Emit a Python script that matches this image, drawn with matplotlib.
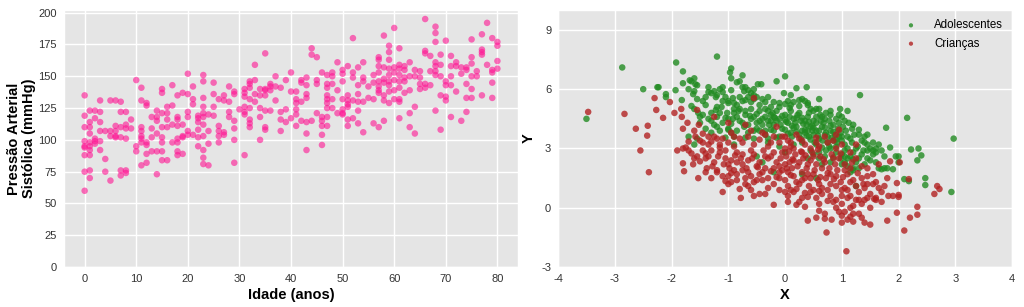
import matplotlib
matplotlib.use("Agg")
import matplotlib.pyplot as plt

# Painel esquerdo: pressão arterial sistólica por idade (índice da lista = idade)
pressao = [
    [135, 119, 110, 99, 95, 94, 88, 75, 60],
    [123, 114, 110, 105, 98, 95, 92, 88, 76, 70],
    [123, 117, 101, 97, 99],
    [131, 122, 114, 107, 99, 92],
    [107, 85, 75],
    [131, 107, 103, 68],
    [131, 111, 103, 102, 107],
    [130, 122, 110, 102, 76, 72],
    [122, 112, 109, 101, 76, 74],
    [116, 109],
    [147, 95, 91],
    [141, 131, 110, 107, 103, 101, 98, 80],
    [129, 127, 98, 96, 89, 82],
    [118, 109, 102, 91],
    [123, 118, 115, 105, 91, 73],
    [140, 137, 121, 110, 102, 98, 91, 84],
    [126, 121, 116, 110, 84],
    [143, 127, 112, 98],
    [135, 118, 116, 111, 101, 98, 91, 88],
    [137, 112, 103, 102, 89],
    [152, 136, 122, 118, 107, 104],
    [142, 132, 128, 104],
    [119, 117, 114, 108, 102, 95],
    [151, 146, 133, 126, 121, 118, 112, 103, 92, 86, 81],
    [120, 107, 97, 80],
    [145, 136, 126, 119],
    [132, 111, 107, 103, 98],
    [135, 131, 106, 104],
    [142, 130, 122, 118],
    [138, 136, 115, 109, 100, 82],
    [124],
    [140, 137, 134, 126, 122, 120, 88],
    [146, 144, 141, 132, 125, 116, 113, 110],
    [159, 147, 136, 130],
    [140, 135, 125, 118, 100],
    [168, 140, 139, 135, 123, 110, 108],
    [144, 142, 139, 123],
    [150, 142, 131],
    [141, 122, 116, 107],
    [147, 124, 114],
    [153, 138, 117],
    [138, 132, 129, 124, 120, 111],
    [147, 145, 130, 115],
    [149, 143, 136, 133, 114, 105, 92],
    [172, 167, 115],
    [165, 147, 144, 121],
    [153, 118, 115, 111, 104, 96],
    [151, 144, 141, 135, 132, 129, 125, 118, 111],
    [153, 150, 144, 132, 125],
    [161, 139, 121],
    [155, 152, 146, 132, 124, 121, 120],
    [158, 135, 131, 128, 126, 116, 111],
    [180, 153, 149, 131, 117],
    [157, 143, 136, 130, 123, 113],
    [161, 149, 146, 130, 106],
    [142, 133],
    [151, 145, 132, 113],
    [165, 163, 158, 153, 146, 142, 139, 137, 110],
    [182, 157, 148, 145, 135, 131, 115],
    [174, 169, 163, 156, 151, 146, 143, 138, 129],
    [188, 157, 153, 147, 139, 132],
    [172, 159, 156, 151, 146, 141, 132, 130, 117],
    [158, 155, 149, 146, 137],
    [161, 150, 139, 121, 110],
    [155, 150, 126, 105],
    [154, 149, 144, 140],
    [195, 170, 168, 144, 141],
    [166, 154, 143],
    [189, 184, 177, 161, 158, 154, 151, 123],
    [167, 159, 150, 135, 108],
    [178, 146, 143, 134, 131],
    [166, 158, 150, 143, 118],
    [161, 158, 138],
    [152, 157, 115],
    [157, 155, 144, 133, 122],
    [179, 165, 160, 150, 140, 133],
    [154, 150],
    [183, 171, 169, 167, 135],
    [192, 159],
    [180, 155, 153, 145, 133],
    [177, 174, 162, 156],
]

# Painel direito: adolescentes
adol_x = [-3.5, -2.87, -2.5, -2.25, -2.23, -2.1, -2.1, -1.92, -1.93, -1.8, -1.82, -1.8,
          -1.68, -1.65, -1.6, -1.58, -1.62, -1.6, -1.55, -1.55, -1.6, -1.65, -1.53, -1.7,
          -1.55, -1.5, -1.4, -1.3, -1.25, -1.2, -1.22, -1.15, -1.1, -1.05, -1.0, -0.95,
          -0.95, -0.97, -0.9, -0.9, -0.85, -0.8, -0.75, -0.72, -0.7, -0.65, -0.6, -0.55,
          -0.5, -0.48, -0.42, -0.4, -0.35, -0.3, -0.2, -0.15, -0.1, 0.0, -0.02, 0.05,
          0.1, 0.2, 0.3, 0.38, 0.4, 0.5, 0.6, 0.65, 0.7, 0.8, 0.9, 0.97, 1.1, 1.05,
          1.2, 1.32, 1.3, 1.4, 1.45, 1.5, 1.55, 1.6, 1.65, 1.75, 1.78, 1.8, 1.85, 1.95,
          2.0, 2.0, 2.15, 2.22, 2.35, 2.4, 2.33, 2.1, 2.18, 2.47, 2.47, 2.93, 2.97, 1.25,
          1.2, 1.2, 1.1, 1.0, 1.05, 1.4, 1.3, 0.55, -0.4, -0.2, -0.3, 0.3,
          -1.3, -1.2, -1.1, -1.0, -0.9, -0.8, -0.8, -0.75, -0.7, -0.65, -0.6, -0.55,
          -0.5, -0.45, -0.4, -0.35, -0.3, -0.25, -0.2, -0.15, -0.1, -0.05, 0.0, 0.05,
          0.1, 0.1, 0.15, 0.2, 0.25, 0.3, 0.35, 0.4, 0.45, 0.5, 0.5, 0.55, 0.6, 0.65,
          0.7, 0.75, 0.8, 0.85, 0.9, 0.95, 1.0, 1.1, 1.15, 1.2, -1.4, -1.3, -1.2, -1.1,
          -1.0, -0.9,
          -1.4, -1.35, -1.2, -1.1, -1.0, -0.92, -0.85, -0.8, -0.7, -0.6, -0.55, -0.45,
          -0.35, -0.25, -0.1, 0.0, 0.08, 0.15, 0.25, 0.35, 0.45, 0.55, 0.72,
          -1.5, -1.45, -1.35, -1.25, -1.15, -1.05, -0.95, -0.85, -0.75, -0.7, -0.6, -0.5,
          -0.45, -0.35, -0.28, -0.22, -0.15, -0.05, 0.02, 0.08, 0.18, 0.22, 0.3, 0.38,
          0.42, 0.55, 0.62, 0.68, 0.78, 0.85, 0.95, 1.02, 1.12, 1.18, 1.0,
          -1.3, -1.15, -0.95, -0.85, -0.65, -0.55, -0.45, -0.35, -0.2, -0.1, 0.0, 0.12,
          0.2, 0.28, 0.35, 0.42, 0.48, 0.52, 0.58, 0.66, 0.72, 0.78, 0.82, 0.88, 0.92,
          0.98, 1.05, 1.1, 1.18, 1.22, 1.28, 1.35, 1.38, 1.45, 1.55, 1.6, 1.7,
          0.45, 0.6, 0.7, 0.8, 0.9, 0.98, 1.05, 1.15, 1.25, 1.3, 1.35, 1.45, 1.5, 1.6,
          1.65, 1.7, 1.9, 1.15, 0.8, 0.65, 0.4, 0.0, -0.5, -0.9, -1.6,
          -0.3, -0.15, 0.05, 0.15, 0.25, 0.32, 0.4, 0.45, 0.5, 0.55, 0.6, 0.63,
          0.7, 0.75, 0.8, 0.85, 0.9, 0.93, 1.0, 1.07, 0.35, 0.38, 0.42, 0.48,
          0.28, 0.2, 0.12, 0.0, -0.08, -0.18, -0.25, -0.4, -0.5, -0.62, -0.72, -0.82,
          -0.92, -1.02, -1.12, -1.22, -0.3, -0.2, 0.1, 0.25, 0.4, 0.6, 0.8, 0.95,
          -0.65, -0.75, -0.55, -0.95, -1.35, -1.45, -1.7, 0.55, 0.65, 0.72, 0.85, 1.0,
          1.1, 1.2, 1.45, 1.55, 1.75, -1.05, -1.2, -1.0, -0.7, -0.55, -0.25, 0.3,
          0.6, 0.5, -0.1, 0.15, 1.3, 1.4, 1.25, 1.05]
adol_y = [4.5, 7.1, 6.0, 6.1, 6.1, 5.75, 5.6, 7.35, 5.95, 6.9, 5.45, 6.3,
          6.45, 6.4, 6.55, 6.25, 5.75, 5.9, 6.2, 5.5, 5.0, 5.15, 4.8, 3.6,
          3.5, 4.6, 5.2, 5.8, 5.9, 7.65, 5.6, 6.0, 6.1, 5.6, 5.3, 6.55,
          7.05, 6.85, 5.3, 5.0, 6.35, 6.4, 6.7, 5.9, 6.1, 5.6, 5.8, 5.5,
          5.6, 6.25, 6.25, 5.5, 5.0, 4.9, 4.6, 6.4, 5.1, 6.65, 5.8, 5.4,
          5.2, 6.05, 5.5, 6.1, 5.3, 4.9, 5.5, 4.6, 4.5, 4.7, 4.5, 5.0, 4.9, 4.4,
          4.2, 5.7, 3.7, 3.6, 3.7, 3.0, 2.9, 2.8, 3.2, 2.0, 4.05, 2.0, 3.05, 2.6,
          2.6, 2.3, 4.55, 2.95, 3.0, 2.65, 2.4, 1.45, 1.35, 1.5, 1.15, 0.8, 3.5, 1.1,
          1.9, 2.0, 2.5, 2.7, 2.3, 2.2, 2.5, 1.5, 2.3, 1.8, 3.5, 1.7,
          4.8, 4.6, 4.3, 4.5, 4.8, 4.4, 5.0, 5.4, 4.7, 4.2, 5.0, 4.6,
          4.3, 4.9, 4.5, 3.9, 4.4, 4.7, 4.2, 4.9, 4.5, 4.0, 4.7, 4.3,
          4.9, 3.8, 4.5, 4.1, 4.8, 3.9, 4.4, 3.9, 4.1, 3.7, 4.4, 3.9, 3.5, 4.1,
          3.7, 3.3, 3.9, 3.4, 3.1, 3.6, 3.4, 3.0, 3.5, 2.8, 4.0, 4.4, 5.1, 5.4,
          4.0, 3.6,
          5.6, 5.85, 5.7, 5.85, 5.4, 5.55, 5.2, 5.6, 5.45, 5.35, 5.7, 5.2,
          5.35, 5.1, 5.3, 5.25, 5.05, 5.35, 5.15, 5.4, 5.0, 5.0, 4.8,
          4.3, 4.7, 4.5, 4.2, 4.8, 4.55, 4.25, 4.6, 4.3, 4.9, 4.5, 4.75,
          4.4, 4.6, 4.2, 4.8, 4.4, 4.65, 4.35, 4.6, 4.3, 4.7, 4.55, 4.2,
          4.8, 4.3, 4.7, 4.3, 4.4, 4.2, 4.3, 4.1, 4.3, 4.0, 4.6,
          3.8, 3.9, 3.8, 3.9, 3.8, 3.5, 3.9, 3.7, 3.9, 3.6, 3.95, 3.6,
          3.85, 3.5, 3.8, 3.6, 3.9, 3.3, 3.65, 3.4, 3.8, 3.1, 3.55, 3.7, 3.3,
          3.8, 3.2, 3.6, 3.3, 3.7, 3.1, 3.4, 2.9, 3.2, 3.3, 3.0, 2.9,
          2.9, 2.8, 2.6, 3.0, 2.8, 2.5, 2.9, 2.6, 2.3, 2.0, 2.7, 2.5, 2.4, 2.3,
          2.0, 1.95, 1.95, 1.8, 2.3, 2.2, 2.5, 2.8, 2.6, 3.2, 3.2,
          3.3, 3.55, 3.75, 4.05, 3.7, 4.25, 4.6, 3.45, 4.05, 4.6, 3.9, 4.4,
          4.05, 3.6, 4.15, 3.85, 3.45, 4.0, 3.6, 3.9, 3.95, 3.65, 4.35, 4.15,
          4.4, 4.55, 4.15, 4.45, 4.2, 4.55, 4.4, 4.2, 4.0, 4.65, 4.1, 4.9,
          4.5, 4.8, 5.1, 4.95, 5.6, 5.35, 5.7, 5.45, 5.2, 5.0, 4.9, 4.7,
          5.95, 6.1, 6.0, 5.95, 6.1, 5.4, 6.0, 3.2, 3.05, 2.9, 2.55, 2.2,
          2.1, 2.45, 2.9, 2.7, 2.6, 3.55, 4.1, 3.95, 3.55, 3.9, 3.95, 3.3,
          2.5, 2.7, 3.1, 3.2, 3.95, 3.3, 3.0, 2.6]

# Painel direito: crianças
cri_x = [-3.47, -2.83, -2.63, -2.55, -2.42, -2.43, -2.4, -2.3, -2.27, -2.15, -2.03, -1.95,
         -1.9, -1.83, -1.82, -1.8, -1.8, -1.8, -1.78, -1.72, -1.7, -1.65, -1.6, -1.58,
         -1.55, -1.52, -1.53, -1.45, -1.4, -1.38, -1.35, -1.3, -1.25, -1.2, -1.2, -1.15,
         -1.1, -1.1, -1.05, -1.0, -1.0, -0.95, -0.95, -0.9, -0.85, -0.8, -0.78, -0.75,
         -0.7, -0.7, -0.65, -0.6, -0.55, -0.55, -0.5, -0.45, -0.4, -0.4, -0.35, -0.3,
         -0.25, -0.2, -0.2, -0.15, -0.1, -0.05, 0.0, 0.0, 0.0, 0.05, 0.1, 0.1,
         0.15, 0.2, 0.2, 0.25, 0.25, 0.3, 0.3, 0.35, 0.4, 0.4, 0.45, 0.5,
         0.5, 0.55, 0.55, 0.6, 0.6, 0.65, 0.7, 0.7, 0.73, 0.75, 0.8, 0.85,
         0.85, 0.9, 0.95, 0.95, 1.0, 1.0, 1.05, 1.08, 1.1, 1.1, 1.15, 1.2,
         1.2, 1.25, 1.25, 1.3, 1.3, 1.4, 1.45, 1.45, 1.5, 1.5, 1.55, 1.6,
         1.65, 1.7, 1.8, 1.82, 1.85, 1.9, 1.97, 1.97, 2.0, 2.0, 2.02, 2.1,
         2.18, 2.2, 2.33, 2.33, 2.63, 2.68, 2.72, 1.57, 1.6,
         -1.5, -1.35, -1.25, -1.1, -1.0, -0.9, -0.75, -0.65, -0.55, -0.45, -0.3, -0.2,
         -0.1, 0.05, 0.15, 0.2, 0.35, 0.45, 0.6, 0.75, 0.9, 1.0, 1.15,
         -1.7, -1.55, -1.45, -1.35, -1.25, -1.15, -1.05, -0.95, -0.85, -0.75, -0.65, -0.55,
         -0.45, -0.35, -0.25, -0.15, -0.08, 0.02, 0.08, 0.12, 0.18, 0.25, 0.32, 0.38,
         0.45, 0.55, 0.62, 0.7, 0.78, 0.88, 0.95, 1.05, 1.15, 1.25, 1.35,
         -1.2, -1.0, -0.85, -0.75, -0.6, -0.5, -0.4, -0.3, -0.2, -0.1, 0.0, 0.05,
         0.15, 0.25, 0.35, 0.42, 0.5, 0.58, 0.65, 0.72, 0.8, 0.9, 0.98, 1.05,
         1.15, 1.25, 1.35, 1.4, 1.55, 1.65,
         -0.6, -0.35, -0.1, 0.05, 0.15, 0.3, 0.45, 0.55, 0.65, 0.8, 0.9, 1.0,
         1.1, 1.2, 1.35, 1.45, 1.2, 1.05, 0.9,
         -0.2, -0.1, -0.05, 0.0, 0.03, 0.07, 0.1, 0.13, 0.22, 0.28, 0.3, 0.36,
         0.4, 0.48, 0.52, 0.58, 0.62, 0.68, 0.75, 0.82, 0.86, 0.92, 0.98, 1.02,
         1.1, 1.18, 1.28, 1.38, 1.45, -0.3, -0.38, -0.48, -0.58, -0.68, -0.78, -0.88,
         -0.98, -1.08, -1.18, -1.28, -1.4, -1.5, -0.15, -0.25, -0.45, -0.55, -0.65, -0.7,
         -0.85, -0.95, -1.05, 0.2, 0.4, 0.6, 0.75, 1.0, 1.15, 1.3, 1.5, 1.6,
         1.75, 0.1, 0.3, 0.55, 0.85, -0.05, -0.35, -0.6, -0.9, -1.15, -1.3, -1.45,
         -1.6, -1.75, -1.62, -1.4, -1.3, -1.0, -0.8, 0.05, 0.35, 0.6, 0.82, 1.0,
         1.15, 1.35, 1.4, 1.7, 1.8, 0.9, 0.7]
cri_y = [4.85, 4.75, 4.0, 2.9, 4.15, 3.65, 1.8, 5.55, 4.95, 4.55, 5.35, 4.8,
         2.9, 5.0, 4.6, 4.0, 3.0, 2.25, 1.85, 4.3, 3.35, 2.75, 2.5, 3.6,
         4.95, 4.2, 1.5, 3.3, 2.5, 2.0, 3.6, 2.9, 4.6, 3.5, 1.8, 3.2,
         0.8, 1.6, 2.5, 4.3, 2.2, 3.8, 1.3, 1.9, 2.8, 3.5, 0.5, 2.2,
         4.2, 1.5, 1.1, 2.9, 0.6, 5.55, 2.1, 0.7, 3.8, 1.4, 2.6, 1.0,
         3.3, 2.0, 0.15, 4.1, 1.5, 2.8, 3.6, 2.2, 0.8, 1.8, 3.1, 0.9,
         2.4, 1.3, 0.15, 3.5, 0.3, 1.8, 2.8, 0.75, 2.2, -0.65, 1.5, 0.9,
         2.6, -0.5, 3.3, 1.2, 0.2, 2.0, -0.3, -0.55, -1.25, 0.9, 1.7, 0.3,
         2.5, 1.1, -0.2, 3.95, 0.6, -0.4, 1.9, -2.2, 0.9, -0.6, 0.0, 1.4,
         -0.7, 0.4, 3.2, -0.3, 0.8, -0.75, 1.2, 2.0, -0.85, 0.0, 1.7, 0.4,
         2.2, 0.8, -0.65, 0.6, 2.35, 0.6, -0.25, 1.25, 0.55, 0.65, 2.3, -1.15,
         1.45, -0.5, 0.05, -0.35, 0.7, 1.1, 0.95, 0.45, 0.5,
         3.4, 3.2, 3.6, 3.5, 3.3, 3.6, 3.3, 3.6, 3.2, 3.45, 3.1, 3.6,
         3.3, 3.4, 3.0, 3.7, 3.2, 3.0, 3.1, 3.3, 3.0, 3.2, 2.8,
         2.9, 2.6, 2.9, 2.6, 2.3, 2.8, 2.9, 2.4, 2.3, 2.7, 2.4, 2.7,
         2.3, 2.0, 2.6, 2.3, 2.5, 2.6, 2.3, 2.0, 2.7, 2.3, 2.5, 2.0,
         2.4, 2.2, 2.6, 2.3, 2.0, 2.2, 2.5, 2.2, 2.0, 2.5, 2.1,
         1.9, 1.6, 1.7, 1.9, 1.6, 1.4, 1.8, 1.5, 1.2, 1.8, 1.4, 1.1,
         1.6, 1.2, 1.5, 1.1, 1.7, 1.4, 1.0, 1.5, 1.2, 1.6, 1.3, 1.0,
         1.3, 1.1, 1.5, 1.0, 1.2, 1.0,
         0.9, 0.7, 0.9, 0.6, 0.8, 0.5, 0.8, 0.5, 0.7, 0.6, 0.4, 0.2,
         0.5, 0.1, 0.2, 0.5, -0.3, -0.2, 0.0,
         2.8, 2.1, 1.9, 3.0, 2.0, 2.85, 1.65, 2.45, 2.1, 2.85, 1.4, 2.65,
         1.7, 2.8, 1.9, 2.95, 1.55, 2.45, 1.75, 2.7, 1.45, 1.9, 2.75, 1.55,
         1.7, 2.3, 1.75, 1.2, 1.6, 2.5, 2.9, 2.05, 2.5, 2.0, 2.5, 2.65,
         2.0, 2.2, 2.6, 2.1, 2.75, 2.35, 1.55, 1.85, 1.7, 1.3, 1.8, 1.2,
         1.4, 1.75, 1.35, 0.95, 0.55, 0.85, 0.35, 0.9, 0.6, 0.4, 0.7, 1.3,
         1.1, 3.3, 3.4, 3.55, 3.4, 3.6, 3.7, 3.9, 3.1, 3.05, 3.35, 3.75,
         3.9, 3.05, 2.2, 1.8, 1.5, 1.2, 0.95, 0.3, 0.05, -0.15, -0.6, -0.75,
         -0.45, -0.5, 0.4, 0.3, 1.5, 3.7, 3.6]

plt.style.use("ggplot")
plt.rcParams["font.family"] = ["Liberation Sans", "DejaVu Sans"]
plt.rcParams["axes.unicode_minus"] = False

fig = plt.figure(figsize=(10.24, 3.07), dpi=100)
ax1 = fig.add_axes([0.0625, 0.13, 0.4434, 0.837])
ax2 = fig.add_axes([0.545, 0.13, 0.4434, 0.837])

# Idade x pressão
idade = []
valores = []
for i, lista in enumerate(pressao):
    idade += [i] * len(lista)
    valores += lista
ax1.scatter(idade, valores, s=22, color="#FF1493", alpha=0.6, edgecolors="none")
ax1.set_xlim(-4, 84)
ax1.set_ylim(0, 202)
ax1.set_yticks(range(0, 201, 25))
ax1.set_xticks(range(0, 81, 10))
ax1.set_xlabel("Idade (anos)", fontsize=10.5, fontweight="bold", color="black", labelpad=3)
ax1.set_ylabel("Pressão Arterial\nSistólica (mmHg)", fontsize=10.5, fontweight="bold",
               color="black", labelpad=2, linespacing=1.05)

# Adolescentes x crianças
ax2.scatter(adol_x, adol_y, s=22, color="#228B22", alpha=0.8, edgecolors="none",
            label="Adolescentes")
ax2.scatter(cri_x, cri_y, s=22, color="#B22222", alpha=0.8, edgecolors="none",
            label="Crianças")
ax2.set_xlim(-4, 4)
ax2.set_ylim(-3, 10)
ax2.set_xticks(range(-4, 5))
ax2.set_yticks([-3, 0, 3, 6, 9])
ax2.set_xlabel("X", fontsize=10.5, fontweight="bold", color="black", labelpad=3)
ax2.set_ylabel("Y", fontsize=10.5, fontweight="bold", color="black", labelpad=4)
ax2.legend(loc="upper right", frameon=False, fontsize=8.3, markerscale=0.65,
           handletextpad=1.0, labelspacing=0.55, borderaxespad=0.4)

for ax in (ax1, ax2):
    ax.tick_params(labelsize=8, colors="#333333", length=0, pad=5)
    ax.set_facecolor("#E5E5E5")
    ax.grid(color="white", linewidth=1)

fig.savefig("out.png", dpi=100)
